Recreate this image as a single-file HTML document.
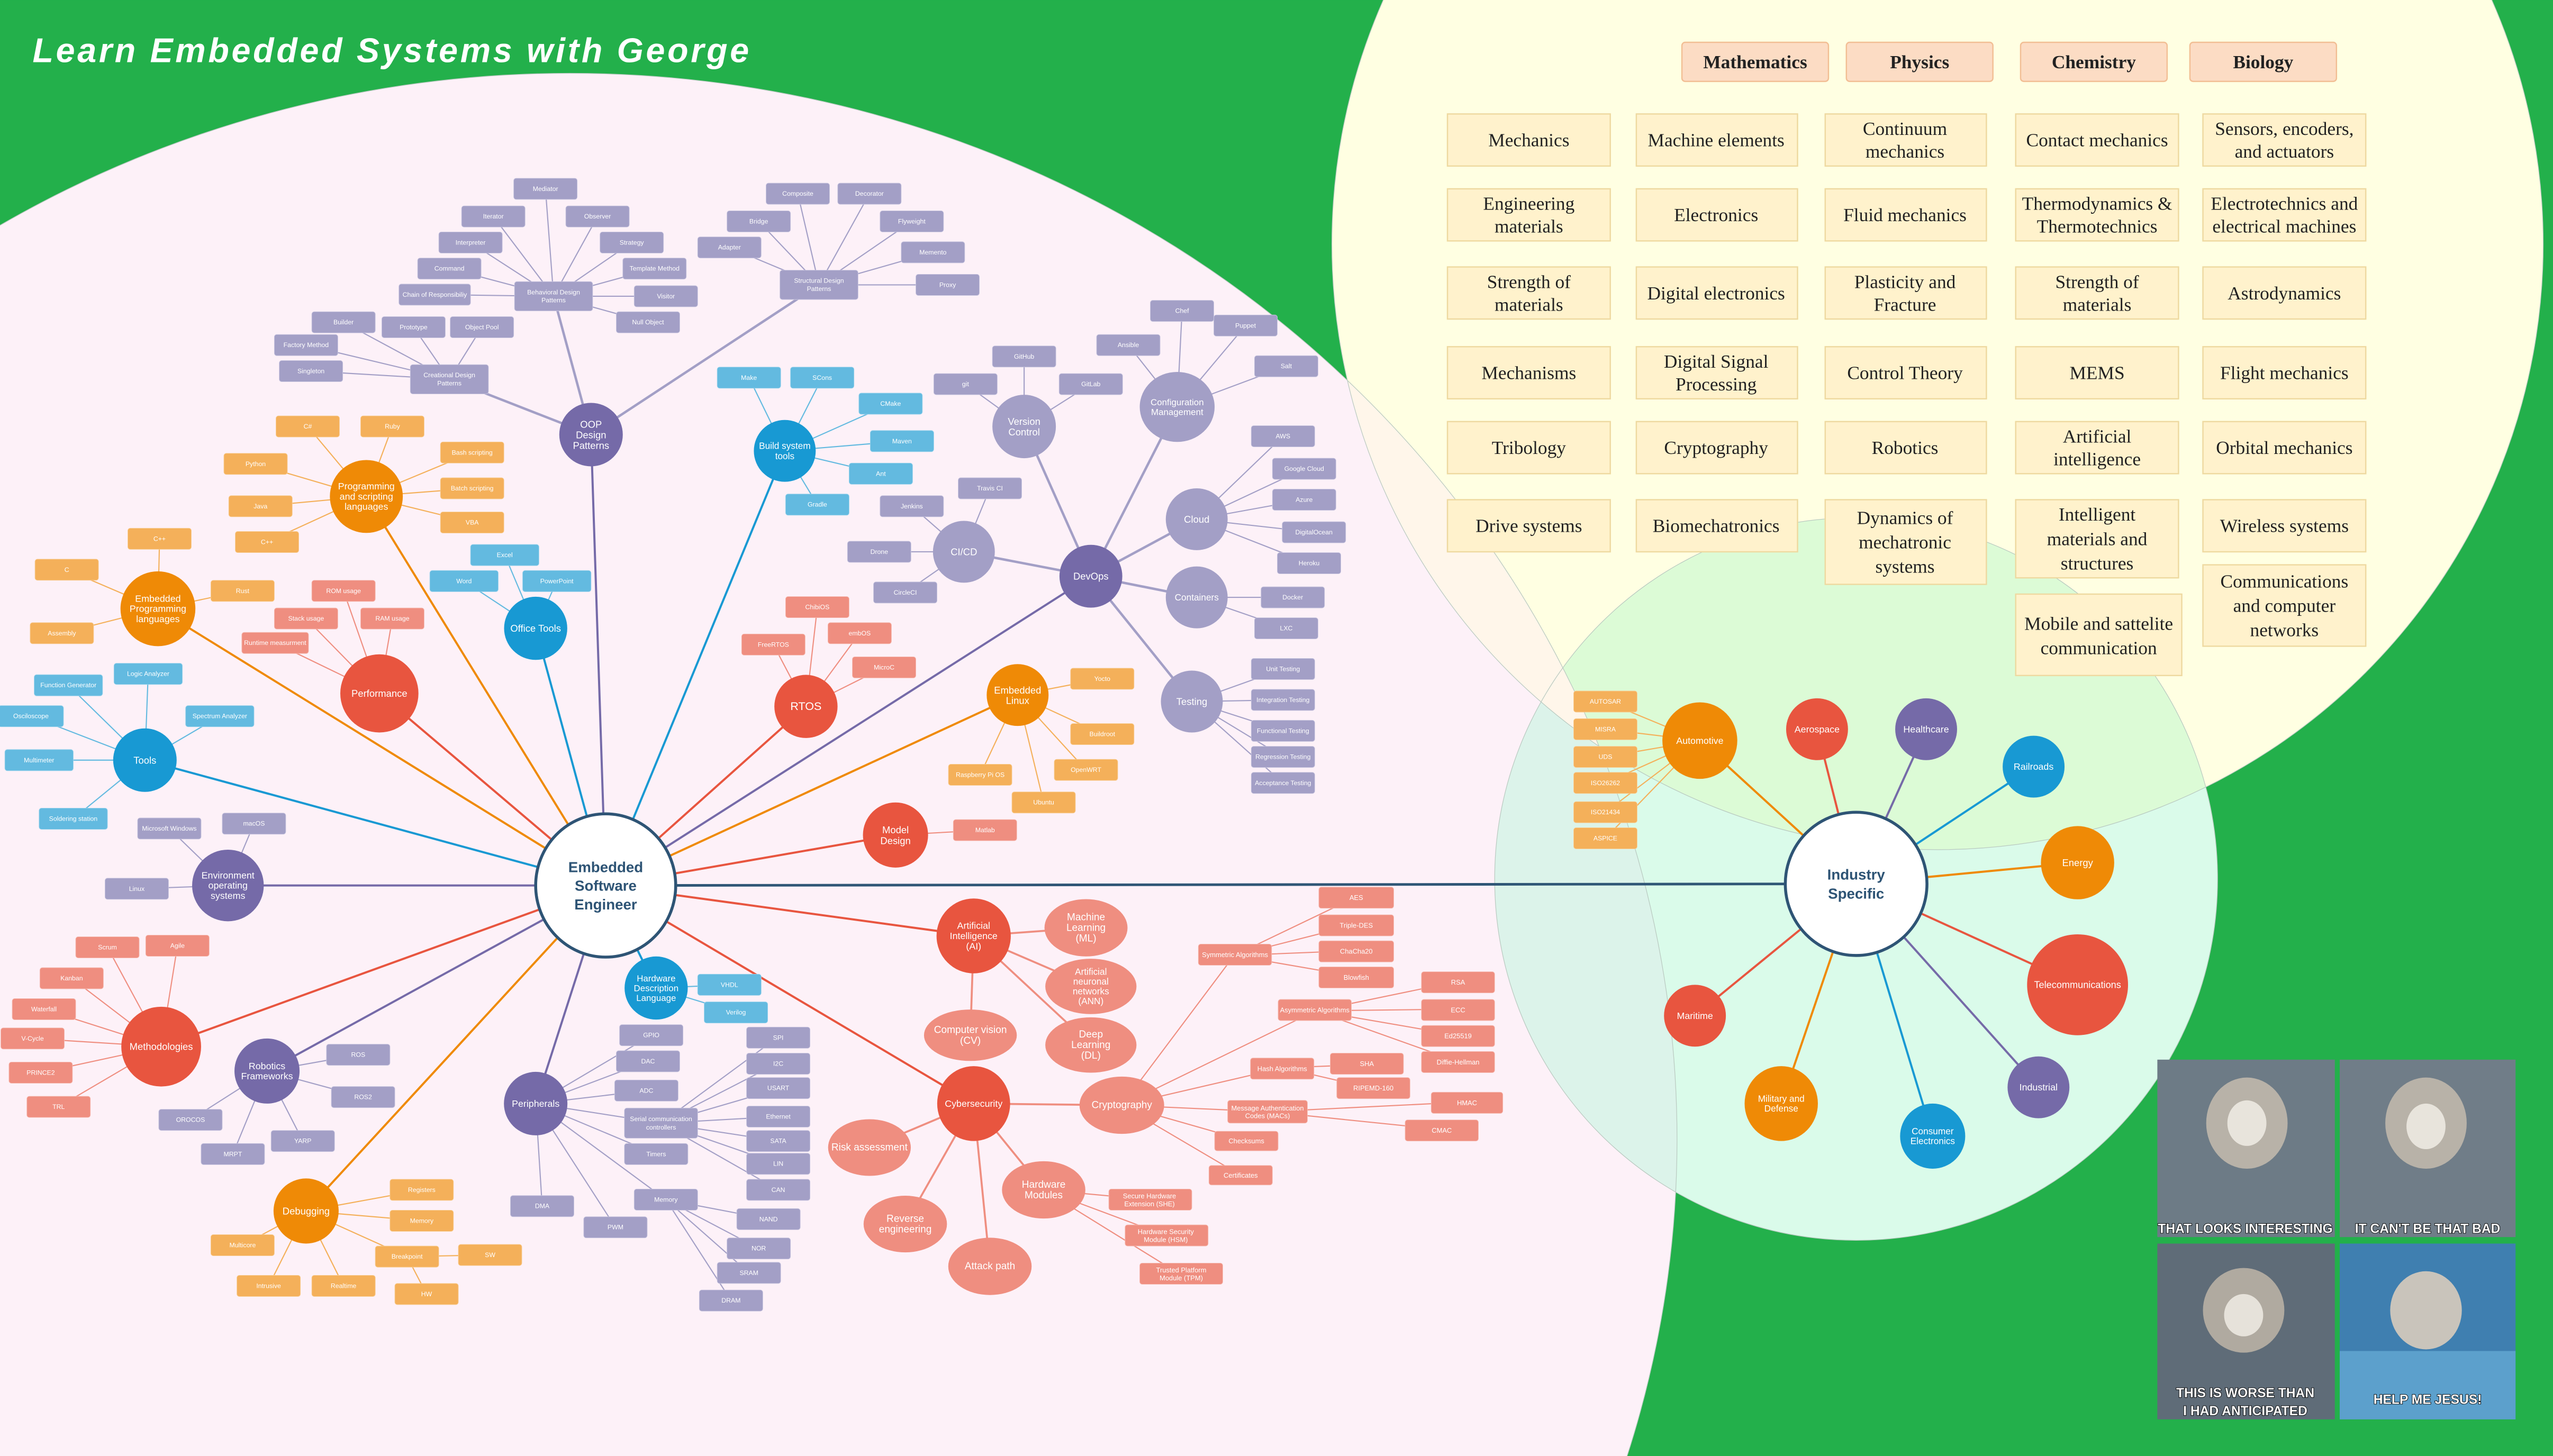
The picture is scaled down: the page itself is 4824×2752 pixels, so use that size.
<!DOCTYPE html>
<html><head><meta charset="utf-8"><style>
html,body{margin:0;padding:0;background:#23b04b;width:4824px;height:2752px;overflow:hidden}
svg{display:block}
text{font-family:"Liberation Sans",sans-serif;fill:#fff;text-anchor:middle;dominant-baseline:central}
.s text{font-size:4px}
.k text{font-size:4.2px}
.m{font-size:6px}
.n{font-size:5.6px}
.lp rect{fill:#a39fc6;stroke:#c9c6e0;stroke-width:.3}
.lo rect{fill:#f4b05a;stroke:#f8cf98;stroke-width:.3}
.ls rect{fill:#ef8e80;stroke:#f6bdb4;stroke-width:.3}
.lb rect{fill:#63bae0;stroke:#9ad3ec;stroke-width:.3}
.g text{font-family:"Liberation Serif",serif;fill:#222;font-size:11.5px}
.g rect{fill:#fff2cc;stroke:#eed9a0;stroke-width:.8}
.h rect{fill:#fcdcc4;stroke:#f2be94;stroke-width:.8}
.h text{font-family:"Liberation Serif",serif;fill:#222;font-size:11.5px;font-weight:bold}
</style></head><body>
<svg width="4824" height="2752" viewBox="0 0 1568 894.5" xmlns="http://www.w3.org/2000/svg">
<defs>
<clipPath id="cp"><ellipse cx="350" cy="700" rx="680" ry="655"/></clipPath>
<clipPath id="cy"><circle cx="1190" cy="150" r="372"/></clipPath>
</defs>
<rect width="1568" height="895" fill="#23b04b"/>
<ellipse cx="350" cy="700" rx="680" ry="655" fill="#fdf1f8"/>
<circle cx="1190" cy="150" r="372" fill="#ffffe2"/>
<circle cx="1140" cy="540" r="222" fill="#dafbea"/>
<circle cx="1140" cy="540" r="222" fill="#dcfbd6" clip-path="url(#cy)"/>
<circle cx="1140" cy="540" r="222" fill="#dcf3ea" clip-path="url(#cp)"/>
<circle cx="1190" cy="150" r="372" fill="#fff6ea" clip-path="url(#cp)"/>
<g fill="none" stroke="#b9c9c0" stroke-width=".4"><ellipse cx="350" cy="700" rx="680" ry="655"/><circle cx="1190" cy="150" r="372"/><circle cx="1140" cy="540" r="222"/></g>

<text x="20" y="31" style="text-anchor:start;font-size:21px;font-weight:bold;font-style:italic" textLength="440">Learn Embedded Systems with George</text>

<g class="h">
<rect x="1033" y="26" width="90" height="24" rx="2"/><text x="1078" y="38">Mathematics</text>
<rect x="1134" y="26" width="90" height="24" rx="2"/><text x="1179" y="38">Physics</text>
<rect x="1241" y="26" width="90" height="24" rx="2"/><text x="1286" y="38">Chemistry</text>
<rect x="1345" y="26" width="90" height="24" rx="2"/><text x="1390" y="38">Biology</text>
</g>
<g class="g">
<rect x="889" y="70" width="100" height="32"/><text x="939" y="86">Mechanics</text>
<rect x="889" y="116" width="100" height="32"/><text x="939" y="132"><tspan x="939" dy="-7">Engineering</tspan><tspan x="939" dy="14">materials</tspan></text>
<rect x="889" y="164" width="100" height="32"/><text x="939" y="180"><tspan x="939" dy="-7">Strength of</tspan><tspan x="939" dy="14">materials</tspan></text>
<rect x="889" y="213" width="100" height="32"/><text x="939" y="229">Mechanisms</text>
<rect x="889" y="259" width="100" height="32"/><text x="939" y="275">Tribology</text>
<rect x="889" y="307" width="100" height="32"/><text x="939" y="323">Drive systems</text>
<rect x="1005" y="70" width="99" height="32"/><text x="1054" y="86">Machine elements</text>
<rect x="1005" y="116" width="99" height="32"/><text x="1054" y="132">Electronics</text>
<rect x="1005" y="164" width="99" height="32"/><text x="1054" y="180">Digital electronics</text>
<rect x="1005" y="213" width="99" height="32"/><text x="1054" y="229"><tspan x="1054" dy="-7">Digital Signal</tspan><tspan x="1054" dy="14">Processing</tspan></text>
<rect x="1005" y="259" width="99" height="32"/><text x="1054" y="275">Cryptography</text>
<rect x="1005" y="307" width="99" height="32"/><text x="1054" y="323">Biomechatronics</text>
<rect x="1121" y="70" width="99" height="32"/><text x="1170" y="86"><tspan x="1170" dy="-7">Continuum</tspan><tspan x="1170" dy="14">mechanics</tspan></text>
<rect x="1121" y="116" width="99" height="32"/><text x="1170" y="132">Fluid mechanics</text>
<rect x="1121" y="164" width="99" height="32"/><text x="1170" y="180"><tspan x="1170" dy="-7">Plasticity and</tspan><tspan x="1170" dy="14">Fracture</tspan></text>
<rect x="1121" y="213" width="99" height="32"/><text x="1170" y="229">Control Theory</text>
<rect x="1121" y="259" width="99" height="32"/><text x="1170" y="275">Robotics</text>
<rect x="1121" y="307" width="99" height="52"/><text x="1170" y="333"><tspan x="1170" dy="-15">Dynamics of</tspan><tspan x="1170" dy="15">mechatronic</tspan><tspan x="1170" dy="15">systems</tspan></text>
<rect x="1238" y="70" width="100" height="32"/><text x="1288" y="86">Contact mechanics</text>
<rect x="1238" y="116" width="100" height="32"/><text x="1288" y="132"><tspan x="1288" dy="-7">Thermodynamics &amp;</tspan><tspan x="1288" dy="14">Thermotechnics</tspan></text>
<rect x="1238" y="164" width="100" height="32"/><text x="1288" y="180"><tspan x="1288" dy="-7">Strength of</tspan><tspan x="1288" dy="14">materials</tspan></text>
<rect x="1238" y="213" width="100" height="32"/><text x="1288" y="229">MEMS</text>
<rect x="1238" y="259" width="100" height="32"/><text x="1288" y="275"><tspan x="1288" dy="-7">Artificial</tspan><tspan x="1288" dy="14">intelligence</tspan></text>
<rect x="1238" y="307" width="100" height="48"/><text x="1288" y="331"><tspan x="1288" dy="-15">Intelligent</tspan><tspan x="1288" dy="15">materials and</tspan><tspan x="1288" dy="15">structures</tspan></text>
<rect x="1238" y="365" width="102" height="50"/><text x="1289" y="390"><tspan x="1289" dy="-7">Mobile and sattelite</tspan><tspan x="1289" dy="15">communication</tspan></text>
<rect x="1353" y="70" width="100" height="32"/><text x="1403" y="86"><tspan x="1403" dy="-7">Sensors, encoders,</tspan><tspan x="1403" dy="14">and actuators</tspan></text>
<rect x="1353" y="116" width="100" height="32"/><text x="1403" y="132"><tspan x="1403" dy="-7">Electrotechnics and</tspan><tspan x="1403" dy="14">electrical machines</tspan></text>
<rect x="1353" y="164" width="100" height="32"/><text x="1403" y="180">Astrodynamics</text>
<rect x="1353" y="213" width="100" height="32"/><text x="1403" y="229">Flight mechanics</text>
<rect x="1353" y="259" width="100" height="32"/><text x="1403" y="275">Orbital mechanics</text>
<rect x="1353" y="307" width="100" height="32"/><text x="1403" y="323">Wireless systems</text>
<rect x="1353" y="347" width="100" height="50"/><text x="1403" y="372"><tspan x="1403" dy="-15">Communications</tspan><tspan x="1403" dy="15">and computer</tspan><tspan x="1403" dy="15">networks</tspan></text>
</g>

<g>
<rect x="1325" y="651" width="109" height="109" fill="#6d7b86"/>
<rect x="1437" y="651" width="108" height="109" fill="#707d88"/>
<rect x="1325" y="764" width="109" height="108" fill="#5f6c78"/>
<rect x="1437" y="764" width="108" height="108" fill="#3f7fb0"/>
<ellipse cx="1380" cy="690" rx="25" ry="28" fill="#b8b2a8"/><ellipse cx="1380" cy="690" rx="12" ry="14" fill="#e8e4dc"/>
<ellipse cx="1490" cy="690" rx="25" ry="28" fill="#b8b2a8"/><ellipse cx="1490" cy="692" rx="12" ry="14" fill="#e8e4dc"/>
<ellipse cx="1378" cy="805" rx="25" ry="26" fill="#b0aaa0"/><ellipse cx="1378" cy="808" rx="12" ry="13" fill="#e6e2da"/>
<ellipse cx="1490" cy="805" rx="22" ry="24" fill="#c9c4bb"/><rect x="1437" y="830" width="108" height="42" fill="#6fb5e0" opacity=".6"/>
<g style="font-weight:bold;font-size:8px;stroke:#000;stroke-width:.6;paint-order:stroke">
<text x="1379" y="755">THAT LOOKS INTERESTING</text>
<text x="1491" y="755">IT CAN'T BE THAT BAD</text>
<text x="1379" y="856">THIS IS WORSE THAN</text>
<text x="1379" y="867">I HAD ANTICIPATED</text>
<text x="1491" y="860">HELP ME JESUS!</text>
</g>
</g>

<path fill="none" stroke="#a39fc6" stroke-width=".7" d="M340 182L335 116M340 182L303 133M340 182L367 133M340 182L289 149M340 182L388 149M340 182L276 165M340 182L402 165M340 182L267 181M340 182L409 182M340 182L398 198
M503 175L490 119M503 175L534 119M503 175L466 136M503 175L560 136M503 175L448 152M503 175L573 155M503 175L582 175
M276 233L211 198M276 233L254 201M276 233L296 201M276 233L188 212M276 233L191 228
M140 544L104 509M140 544L156 506M140 544L84 546
M164 658L220 648M164 658L223 674M164 658L117 688M164 658L186 701M164 658L143 709
M329 678L400 636M329 678L398 652M329 678L397 670M329 678L406 690M329 678L403 709M329 678L409 737M329 678L333 741M329 678L378 754
M406 690L478 637M406 690L478 653M406 690L478 669M406 690L478 686M406 690L478 701M406 690L478 715M406 690L478 731
M409 737L472 749M409 737L466 767M409 737L460 782M409 737L449 799
M629 262L593 236M629 262L629 219M629 262L670 236
M723 250L726 191M723 250L765 200M723 250L693 212M723 250L790 225
M735 319L788 268M735 319L801 288M735 319L801 307M735 319L807 327M735 319L804 346
M735 367L794 367M735 367L790 386
M732 431L788 411M732 431L788 430M732 431L788 449M732 431L788 465M732 431L788 481
M592 339L608 300M592 339L560 311M592 339L540 339M592 339L556 364"/>
<path fill="none" stroke="#a39fc6" stroke-width="1.5" d="M363 267L340 182M363 267L503 175M363 267L276 233M670 354L629 262M670 354L723 250M670 354L735 319M670 354L735 367M670 354L732 431M670 354L592 339"/>
<path fill="none" stroke="#756aa8" stroke-width="1.3" d="M372 544L363 267M372 544L140 544M372 544L164 658M372 544L329 678M372 544L670 354M1140 543L1183 448M1140 543L1252 668"/>
<path fill="none" stroke="#ef8a06" stroke-width="1.3" d="M372 544L225 305M372 544L97 374M372 544L188 744M372 544L625 427M1140 543L1044 455M1140 543L1276 530M1140 543L1094 678"/>
<path fill="none" stroke="#f4b05a" stroke-width=".7" d="M225 305L189 262M225 305L241 262M225 305L157 285M225 305L290 278M225 305L160 311M225 305L290 300M225 305L164 333M225 305L290 321
M97 374L98 331M97 374L41 350M97 374L149 363M97 374L38 389
M188 744L259 731M188 744L259 750M188 744L250 772M188 744L149 765M188 744L165 790M188 744L211 790M250 772L301 771M250 772L262 795
M625 427L677 417M625 427L677 451M625 427L667 473M625 427L641 493M625 427L602 476
M1044 455L986 431M1044 455L986 448M1044 455L986 465M1044 455L986 481M1044 455L986 499M1044 455L986 515"/>
<path fill="none" stroke="#e8553f" stroke-width="1.3" d="M372 544L233 426M372 544L99 643M372 544L598 678M372 544L598 575M372 544L550 513M372 544L495 434M1140 543L1116 448M1140 543L1276 605M1140 543L1041 624"/>
<path fill="none" stroke="#ef8e80" stroke-width=".7" d="M233 426L211 363M233 426L188 380M233 426L241 380M233 426L169 395
M99 643L66 582M99 643L109 581M99 643L44 601M99 643L27 620M99 643L20 638M99 643L25 659M99 643L36 680
M495 434L475 396M495 434L502 373M495 434L528 389M495 434L543 410M550 513L605 510
M641 731L706 737M641 731L716 759M641 731L725 783
M689 679L758 587M689 679L808 621M689 679L788 656M689 679L779 683M689 679L766 701M689 679L762 722
M758 587L833 551M758 587L833 568M758 587L833 584M758 587L833 600
M808 621L895 603M808 621L895 620M808 621L895 636M808 621L895 652
M788 656L840 654M788 656L844 669M779 683L901 677M779 683L886 694"/>
<path fill="none" stroke="#ef8e80" stroke-width="1.2" d="M598 575L667 570M598 575L670 606M598 575L670 642M598 575L596 636M598 678L534 705M598 678L556 752M598 678L608 778M598 678L641 731M598 678L689 679"/>
<path fill="none" stroke="#1899d3" stroke-width="1.3" d="M372 544L329 386M372 544L89 467M372 544L403 607M372 544L482 277M1140 543L1249 471M1140 543L1187 698"/>
<path fill="none" stroke="#63bae0" stroke-width=".7" d="M329 386L310 341M329 386L285 357M329 386L342 357
M89 467L91 414M89 467L42 421M89 467L19 440M89 467L135 440M89 467L24 467M89 467L45 503
M403 607L448 605M403 607L452 622
M482 277L460 232M482 277L505 232M482 277L547 248M482 277L554 271M482 277L541 291M482 277L502 310"/>
<path fill="none" stroke="#2f5676" stroke-width="1.6" d="M372 544L1140 543"/>

<g class="lp s">
<rect x="315.5" y="109.5" width="39" height="13" rx="1.5"/><text x="335" y="116">Mediator</text>
<rect x="283.5" y="126.5" width="39" height="13" rx="1.5"/><text x="303" y="133">Iterator</text>
<rect x="347.5" y="126.5" width="39" height="13" rx="1.5"/><text x="367" y="133">Observer</text>
<rect x="269.5" y="142.5" width="39" height="13" rx="1.5"/><text x="289" y="149">Interpreter</text>
<rect x="368.5" y="142.5" width="39" height="13" rx="1.5"/><text x="388" y="149">Strategy</text>
<rect x="256.5" y="158.5" width="39" height="13" rx="1.5"/><text x="276" y="165">Command</text>
<rect x="382.5" y="158.5" width="39" height="13" rx="1.5"/><text x="402" y="165">Template Method</text>
<rect x="245" y="174.5" width="44" height="13" rx="1.5"/><text x="267" y="181">Chain of Responsibiliy</text>
<rect x="389.5" y="175.5" width="39" height="13" rx="1.5"/><text x="409" y="182">Visitor</text>
<rect x="378.5" y="191.5" width="39" height="13" rx="1.5"/><text x="398" y="198">Null Object</text>
<rect x="316" y="173" width="48" height="18" rx="1.5"/><text x="340" y="182"><tspan x="340" dy="-2.5">Behavioral Design</tspan><tspan x="340" dy="5">Patterns</tspan></text>
<rect x="479" y="166" width="48" height="18" rx="1.5"/><text x="503" y="175"><tspan x="503" dy="-2.5">Structural Design</tspan><tspan x="503" dy="5">Patterns</tspan></text>
<rect x="252" y="224" width="48" height="18" rx="1.5"/><text x="276" y="233"><tspan x="276" dy="-2.5">Creational Design</tspan><tspan x="276" dy="5">Patterns</tspan></text>
<rect x="470.5" y="112.5" width="39" height="13" rx="1.5"/><text x="490" y="119">Composite</text>
<rect x="514.5" y="112.5" width="39" height="13" rx="1.5"/><text x="534" y="119">Decorator</text>
<rect x="446.5" y="129.5" width="39" height="13" rx="1.5"/><text x="466" y="136">Bridge</text>
<rect x="540.5" y="129.5" width="39" height="13" rx="1.5"/><text x="560" y="136">Flyweight</text>
<rect x="428.5" y="145.5" width="39" height="13" rx="1.5"/><text x="448" y="152">Adapter</text>
<rect x="553.5" y="148.5" width="39" height="13" rx="1.5"/><text x="573" y="155">Memento</text>
<rect x="562.5" y="168.5" width="39" height="13" rx="1.5"/><text x="582" y="175">Proxy</text>
<rect x="191.5" y="191.5" width="39" height="13" rx="1.5"/><text x="211" y="198">Builder</text>
<rect x="234.5" y="194.5" width="39" height="13" rx="1.5"/><text x="254" y="201">Prototype</text>
<rect x="276.5" y="194.5" width="39" height="13" rx="1.5"/><text x="296" y="201">Object Pool</text>
<rect x="168.5" y="205.5" width="39" height="13" rx="1.5"/><text x="188" y="212">Factory Method</text>
<rect x="171.5" y="221.5" width="39" height="13" rx="1.5"/><text x="191" y="228">Singleton</text>
<rect x="84.5" y="502.5" width="39" height="13" rx="1.5"/><text x="104" y="509">Microsoft Windows</text>
<rect x="136.5" y="499.5" width="39" height="13" rx="1.5"/><text x="156" y="506">macOS</text>
<rect x="64.5" y="539.5" width="39" height="13" rx="1.5"/><text x="84" y="546">Linux</text>
<rect x="200.5" y="641.5" width="39" height="13" rx="1.5"/><text x="220" y="648">ROS</text>
<rect x="203.5" y="667.5" width="39" height="13" rx="1.5"/><text x="223" y="674">ROS2</text>
<rect x="97.5" y="681.5" width="39" height="13" rx="1.5"/><text x="117" y="688">OROCOS</text>
<rect x="166.5" y="694.5" width="39" height="13" rx="1.5"/><text x="186" y="701">YARP</text>
<rect x="123.5" y="702.5" width="39" height="13" rx="1.5"/><text x="143" y="709">MRPT</text>
<rect x="380.5" y="629.5" width="39" height="13" rx="1.5"/><text x="400" y="636">GPIO</text>
<rect x="378.5" y="645.5" width="39" height="13" rx="1.5"/><text x="398" y="652">DAC</text>
<rect x="377.5" y="663.5" width="39" height="13" rx="1.5"/><text x="397" y="670">ADC</text>
<rect x="383.5" y="680.75" width="45" height="18.5" rx="1.5"/><text x="406" y="690"><tspan x="406" dy="-2.6">Serial communication</tspan><tspan x="406" dy="5.2">controllers</tspan></text>
<rect x="383.5" y="702.5" width="39" height="13" rx="1.5"/><text x="403" y="709">Timers</text>
<rect x="389.5" y="730.5" width="39" height="13" rx="1.5"/><text x="409" y="737">Memory</text>
<rect x="313.5" y="734.5" width="39" height="13" rx="1.5"/><text x="333" y="741">DMA</text>
<rect x="358.5" y="747.5" width="39" height="13" rx="1.5"/><text x="378" y="754">PWM</text>
<rect x="458.5" y="631" width="39" height="13" rx="1.5"/><text x="478" y="637.5">SPI</text>
<rect x="458.5" y="647" width="39" height="13" rx="1.5"/><text x="478" y="653.5">I2C</text>
<rect x="458.5" y="662" width="39" height="13" rx="1.5"/><text x="478" y="668.5">USART</text>
<rect x="458.5" y="679.5" width="39" height="13" rx="1.5"/><text x="478" y="686">Ethernet</text>
<rect x="458.5" y="694.5" width="39" height="13" rx="1.5"/><text x="478" y="701">SATA</text>
<rect x="458.5" y="708.5" width="39" height="13" rx="1.5"/><text x="478" y="715">LIN</text>
<rect x="458.5" y="724.5" width="39" height="13" rx="1.5"/><text x="478" y="731">CAN</text>
<rect x="452.5" y="742.5" width="39" height="13" rx="1.5"/><text x="472" y="749">NAND</text>
<rect x="446.5" y="760.5" width="39" height="13" rx="1.5"/><text x="466" y="767">NOR</text>
<rect x="440.5" y="775.5" width="39" height="13" rx="1.5"/><text x="460" y="782">SRAM</text>
<rect x="429.5" y="792.5" width="39" height="13" rx="1.5"/><text x="449" y="799">DRAM</text>
<rect x="573.5" y="229.5" width="39" height="13" rx="1.5"/><text x="593" y="236">git</text>
<rect x="609.5" y="212.5" width="39" height="13" rx="1.5"/><text x="629" y="219">GitHub</text>
<rect x="650.5" y="229.5" width="39" height="13" rx="1.5"/><text x="670" y="236">GitLab</text>
<rect x="706.5" y="184.5" width="39" height="13" rx="1.5"/><text x="726" y="191">Chef</text>
<rect x="745.5" y="193.5" width="39" height="13" rx="1.5"/><text x="765" y="200">Puppet</text>
<rect x="673.5" y="205.5" width="39" height="13" rx="1.5"/><text x="693" y="212">Ansible</text>
<rect x="770.5" y="218.5" width="39" height="13" rx="1.5"/><text x="790" y="225">Salt</text>
<rect x="768.5" y="261.5" width="39" height="13" rx="1.5"/><text x="788" y="268">AWS</text>
<rect x="781.5" y="281.5" width="39" height="13" rx="1.5"/><text x="801" y="288">Google Cloud</text>
<rect x="781.5" y="300.5" width="39" height="13" rx="1.5"/><text x="801" y="307">Azure</text>
<rect x="787.5" y="320.5" width="39" height="13" rx="1.5"/><text x="807" y="327">DigitalOcean</text>
<rect x="784.5" y="339.5" width="39" height="13" rx="1.5"/><text x="804" y="346">Heroku</text>
<rect x="774.5" y="360.5" width="39" height="13" rx="1.5"/><text x="794" y="367">Docker</text>
<rect x="770.5" y="379.5" width="39" height="13" rx="1.5"/><text x="790" y="386">LXC</text>
<rect x="768.5" y="404.5" width="39" height="13" rx="1.5"/><text x="788" y="411">Unit Testing</text>
<rect x="768.5" y="423.5" width="39" height="13" rx="1.5"/><text x="788" y="430">Integration Testing</text>
<rect x="768.5" y="442.5" width="39" height="13" rx="1.5"/><text x="788" y="449">Functional Testing</text>
<rect x="768.5" y="458.5" width="39" height="13" rx="1.5"/><text x="788" y="465">Regression Testing</text>
<rect x="768.5" y="474.5" width="39" height="13" rx="1.5"/><text x="788" y="481">Acceptance Testing</text>
<rect x="588.5" y="293.5" width="39" height="13" rx="1.5"/><text x="608" y="300">Travis CI</text>
<rect x="540.5" y="304.5" width="39" height="13" rx="1.5"/><text x="560" y="311">Jenkins</text>
<rect x="520.5" y="332.5" width="39" height="13" rx="1.5"/><text x="540" y="339">Drone</text>
<rect x="536.5" y="357.5" width="39" height="13" rx="1.5"/><text x="556" y="364">CircleCI</text>
</g>
<g class="lb s">
<rect x="440.5" y="225.5" width="39" height="13" rx="1.5"/><text x="460" y="232">Make</text>
<rect x="485.5" y="225.5" width="39" height="13" rx="1.5"/><text x="505" y="232">SCons</text>
<rect x="527.5" y="241.5" width="39" height="13" rx="1.5"/><text x="547" y="248">CMake</text>
<rect x="534.5" y="264.5" width="39" height="13" rx="1.5"/><text x="554" y="271">Maven</text>
<rect x="521.5" y="284.5" width="39" height="13" rx="1.5"/><text x="541" y="291">Ant</text>
<rect x="482.5" y="303.5" width="39" height="13" rx="1.5"/><text x="502" y="310">Gradle</text>
<rect x="289" y="334.5" width="42" height="13" rx="1.5"/><text x="310" y="341">Excel</text>
<rect x="264" y="350.5" width="42" height="13" rx="1.5"/><text x="285" y="357">Word</text>
<rect x="321" y="350.5" width="42" height="13" rx="1.5"/><text x="342" y="357">PowerPoint</text>
<rect x="70" y="407.5" width="42" height="13" rx="1.5"/><text x="91" y="414">Logic Analyzer</text>
<rect x="21" y="414.5" width="42" height="13" rx="1.5"/><text x="42" y="421">Function Generator</text>
<rect x="-1" y="433.5" width="40" height="13" rx="1.5"/><text x="19" y="440">Osciloscope</text>
<rect x="114" y="433.5" width="42" height="13" rx="1.5"/><text x="135" y="440">Spectrum Analyzer</text>
<rect x="3" y="460.5" width="42" height="13" rx="1.5"/><text x="24" y="467">Multimeter</text>
<rect x="24" y="496.5" width="42" height="13" rx="1.5"/><text x="45" y="503">Soldering station</text>
<rect x="428.5" y="598.5" width="39" height="13" rx="1.5"/><text x="448" y="605">VHDL</text>
<rect x="432.5" y="615.5" width="39" height="13" rx="1.5"/><text x="452" y="622">Verilog</text>
</g>
<g class="lo s">
<rect x="169.5" y="255.5" width="39" height="13" rx="1.5"/><text x="189" y="262">C#</text>
<rect x="221.5" y="255.5" width="39" height="13" rx="1.5"/><text x="241" y="262">Ruby</text>
<rect x="137.5" y="278.5" width="39" height="13" rx="1.5"/><text x="157" y="285">Python</text>
<rect x="270.5" y="271.5" width="39" height="13" rx="1.5"/><text x="290" y="278">Bash scripting</text>
<rect x="140.5" y="304.5" width="39" height="13" rx="1.5"/><text x="160" y="311">Java</text>
<rect x="270.5" y="293.5" width="39" height="13" rx="1.5"/><text x="290" y="300">Batch scripting</text>
<rect x="144.5" y="326.5" width="39" height="13" rx="1.5"/><text x="164" y="333">C++</text>
<rect x="270.5" y="314.5" width="39" height="13" rx="1.5"/><text x="290" y="321">VBA</text>
<rect x="78.5" y="324.5" width="39" height="13" rx="1.5"/><text x="98" y="331">C++</text>
<rect x="21.5" y="343.5" width="39" height="13" rx="1.5"/><text x="41" y="350">C</text>
<rect x="129.5" y="356.5" width="39" height="13" rx="1.5"/><text x="149" y="363">Rust</text>
<rect x="18.5" y="382.5" width="39" height="13" rx="1.5"/><text x="38" y="389">Assembly</text>
<rect x="239.5" y="724.5" width="39" height="13" rx="1.5"/><text x="259" y="731">Registers</text>
<rect x="239.5" y="743.5" width="39" height="13" rx="1.5"/><text x="259" y="750">Memory</text>
<rect x="230.5" y="765.5" width="39" height="13" rx="1.5"/><text x="250" y="772">Breakpoint</text>
<rect x="281.5" y="764.5" width="39" height="13" rx="1.5"/><text x="301" y="771">SW</text>
<rect x="242.5" y="788.5" width="39" height="13" rx="1.5"/><text x="262" y="795">HW</text>
<rect x="129.5" y="758.5" width="39" height="13" rx="1.5"/><text x="149" y="765">Multicore</text>
<rect x="145.5" y="783.5" width="39" height="13" rx="1.5"/><text x="165" y="790">Intrusive</text>
<rect x="191.5" y="783.5" width="39" height="13" rx="1.5"/><text x="211" y="790">Realtime</text>
<rect x="657.5" y="410.5" width="39" height="13" rx="1.5"/><text x="677" y="417">Yocto</text>
<rect x="657.5" y="444.5" width="39" height="13" rx="1.5"/><text x="677" y="451">Buildroot</text>
<rect x="647.5" y="466.5" width="39" height="13" rx="1.5"/><text x="667" y="473">OpenWRT</text>
<rect x="621.5" y="486.5" width="39" height="13" rx="1.5"/><text x="641" y="493">Ubuntu</text>
<rect x="582.5" y="469.5" width="39" height="13" rx="1.5"/><text x="602" y="476">Raspberry Pi OS</text>
<rect x="966.5" y="424.5" width="39" height="13" rx="1.5"/><text x="986" y="431">AUTOSAR</text>
<rect x="966.5" y="441.5" width="39" height="13" rx="1.5"/><text x="986" y="448">MISRA</text>
<rect x="966.5" y="458.5" width="39" height="13" rx="1.5"/><text x="986" y="465">UDS</text>
<rect x="966.5" y="474.5" width="39" height="13" rx="1.5"/><text x="986" y="481">ISO26262</text>
<rect x="966.5" y="492.5" width="39" height="13" rx="1.5"/><text x="986" y="499">ISO21434</text>
<rect x="966.5" y="508.5" width="39" height="13" rx="1.5"/><text x="986" y="515">ASPICE</text>
</g>
<g class="ls s">
<rect x="191.5" y="356.5" width="39" height="13" rx="1.5"/><text x="211" y="363">ROM usage</text>
<rect x="168.5" y="373.5" width="39" height="13" rx="1.5"/><text x="188" y="380">Stack usage</text>
<rect x="221.5" y="373.5" width="39" height="13" rx="1.5"/><text x="241" y="380">RAM usage</text>
<rect x="148.5" y="388.5" width="41" height="13" rx="1.5"/><text x="169" y="395">Runtime measurment</text>
<rect x="46.5" y="575.5" width="39" height="13" rx="1.5"/><text x="66" y="582">Scrum</text>
<rect x="89.5" y="574.5" width="39" height="13" rx="1.5"/><text x="109" y="581">Agile</text>
<rect x="24.5" y="594.5" width="39" height="13" rx="1.5"/><text x="44" y="601">Kanban</text>
<rect x="7.5" y="613.5" width="39" height="13" rx="1.5"/><text x="27" y="620">Waterfall</text>
<rect x="0.5" y="631.5" width="39" height="13" rx="1.5"/><text x="20" y="638">V-Cycle</text>
<rect x="5.5" y="652.5" width="39" height="13" rx="1.5"/><text x="25" y="659">PRINCE2</text>
<rect x="16.5" y="673.5" width="39" height="13" rx="1.5"/><text x="36" y="680">TRL</text>
<rect x="455.5" y="389.5" width="39" height="13" rx="1.5"/><text x="475" y="396">FreeRTOS</text>
<rect x="482.5" y="366.5" width="39" height="13" rx="1.5"/><text x="502" y="373">ChibiOS</text>
<rect x="508.5" y="382.5" width="39" height="13" rx="1.5"/><text x="528" y="389">embOS</text>
<rect x="523.5" y="403.5" width="39" height="13" rx="1.5"/><text x="543" y="410">MicroC</text>
<rect x="585.5" y="503.5" width="39" height="13" rx="1.5"/><text x="605" y="510">Matlab</text>
</g>
<g class="ls k">
<rect x="736" y="580" width="45" height="13" rx="1.5"/><text x="758.5" y="586.5">Symmetric Algorithms</text>
<rect x="785" y="614" width="45" height="13" rx="1.5"/><text x="807.5" y="620.5">Asymmetric Algorithms</text>
<rect x="768" y="650" width="39" height="13" rx="1.5"/><text x="787.5" y="656.5">Hash Algorithms</text>
<rect x="754" y="676" width="49" height="14" rx="1.5"/><text x="778.5" y="683"><tspan x="778.5" dy="-2.4">Message Authentication</tspan><tspan x="778.5" dy="4.8">Codes (MACs)</tspan></text>
<rect x="746" y="695" width="39" height="12" rx="1.5"/><text x="765.5" y="701">Checksums</text>
<rect x="742.5" y="716" width="39" height="12" rx="1.5"/><text x="762" y="722">Certificates</text>
<rect x="810" y="545" width="46" height="13" rx="1.5"/><text x="833" y="551.5">AES</text>
<rect x="810" y="562" width="46" height="13" rx="1.5"/><text x="833" y="568.5">Triple-DES</text>
<rect x="810" y="578" width="46" height="13" rx="1.5"/><text x="833" y="584.5">ChaCha20</text>
<rect x="810" y="594" width="46" height="13" rx="1.5"/><text x="833" y="600.5">Blowfish</text>
<rect x="873" y="597" width="45" height="13" rx="1.5"/><text x="895.5" y="603.5">RSA</text>
<rect x="873" y="614" width="45" height="13" rx="1.5"/><text x="895.5" y="620.5">ECC</text>
<rect x="873" y="630" width="45" height="13" rx="1.5"/><text x="895.5" y="636.5">Ed25519</text>
<rect x="873" y="646" width="45" height="13" rx="1.5"/><text x="895.5" y="652.5">Diffie-Hellman</text>
<rect x="817" y="647" width="45" height="13" rx="1.5"/><text x="839.5" y="653.5">SHA</text>
<rect x="821" y="662" width="45" height="13" rx="1.5"/><text x="843.5" y="668.5">RIPEMD-160</text>
<rect x="879" y="671" width="44" height="13" rx="1.5"/><text x="901" y="677.5">HMAC</text>
<rect x="863" y="688" width="45" height="13" rx="1.5"/><text x="885.5" y="694.5">CMAC</text>
<rect x="681" y="730.5" width="51" height="13" rx="1.5"/><text x="706" y="737"><tspan x="706" dy="-2.4">Secure Hardware</tspan><tspan x="706" dy="4.8">Extension (SHE)</tspan></text>
<rect x="691" y="752.5" width="51" height="13" rx="1.5"/><text x="716" y="759"><tspan x="716" dy="-2.4">Hardware Security</tspan><tspan x="716" dy="4.8">Module (HSM)</tspan></text>
<rect x="700" y="776" width="51" height="13" rx="1.5"/><text x="725.5" y="782.5"><tspan x="725.5" dy="-2.4">Trusted Platform</tspan><tspan x="725.5" dy="4.8">Module (TPM)</tspan></text>
</g>

<g fill="#756aa8">
<circle cx="363" cy="267" r="19.5"/><circle cx="140" cy="544" r="22"/><circle cx="164" cy="658" r="20"/><circle cx="329" cy="678" r="19.5"/><circle cx="670" cy="354" r="19.3"/><circle cx="1183" cy="448" r="19"/><circle cx="1252" cy="668" r="19"/>
</g>
<g fill="#a39fc6">
<circle cx="629" cy="262" r="19.5"/><ellipse cx="723" cy="250" rx="23" ry="21.5"/><circle cx="735" cy="319" r="19"/><circle cx="735" cy="367" r="19"/><circle cx="732" cy="431" r="19"/><circle cx="592" cy="339" r="19"/>
</g>
<g fill="#ef8a06">
<circle cx="225" cy="305" r="22.4"/><circle cx="97" cy="374" r="23"/><circle cx="188" cy="744" r="20"/><circle cx="625" cy="427" r="19"/><ellipse cx="1044" cy="455" rx="23" ry="23.5"/><circle cx="1276" cy="530" r="22.5"/><ellipse cx="1094" cy="678" rx="22.5" ry="23"/>
</g>
<g fill="#e8553f">
<circle cx="233" cy="426" r="24"/><circle cx="99" cy="643" r="24.5"/><circle cx="495" cy="434" r="19.4"/><circle cx="550" cy="513" r="20"/><ellipse cx="598" cy="575" rx="22.8" ry="23"/><ellipse cx="598" cy="678" rx="22.4" ry="23"/><circle cx="1116" cy="448" r="19"/><circle cx="1276" cy="605" r="31"/><circle cx="1041" cy="624" r="19"/>
</g>
<g fill="#ef8e80">
<ellipse cx="667" cy="570" rx="25.5" ry="17.6"/><ellipse cx="670" cy="606" rx="28" ry="17"/><ellipse cx="670" cy="642" rx="28" ry="17"/><ellipse cx="596" cy="636" rx="28.5" ry="15.8"/>
<ellipse cx="534" cy="705" rx="25.4" ry="17.4"/><ellipse cx="556" cy="752" rx="25.6" ry="17.4"/><ellipse cx="608" cy="778" rx="25.6" ry="17.6"/><ellipse cx="641" cy="731" rx="25.6" ry="17.6"/><ellipse cx="689" cy="679" rx="26" ry="17.6"/>
</g>
<g fill="#1899d3">
<circle cx="329" cy="386" r="19.4"/><circle cx="89" cy="467" r="19.5"/><circle cx="403" cy="607" r="19.4"/><circle cx="482" cy="277" r="19"/><circle cx="1249" cy="471" r="19"/><circle cx="1187" cy="698" r="20"/>
</g>
<ellipse cx="372" cy="544" rx="43" ry="44" fill="#fff" stroke="#2e5475" stroke-width="1.8"/>
<ellipse cx="1140" cy="543" rx="43.5" ry="44" fill="#fff" stroke="#2e5475" stroke-width="1.8"/>

<g class="m">
<text x="363" y="267"><tspan x="363" dy="-6.5">OOP</tspan><tspan x="363" dy="6.5">Design</tspan><tspan x="363" dy="6.5">Patterns</tspan></text>
<text x="140" y="544" font-size="5.8"><tspan x="140" dy="-6.3">Environment</tspan><tspan x="140" dy="6.3">operating</tspan><tspan x="140" dy="6.3">systems</tspan></text>
<text x="164" y="658" font-size="5.8"><tspan x="164" dy="-3.1">Robotics</tspan><tspan x="164" dy="6.2">Frameworks</tspan></text>
<text x="329" y="678" font-size="5.8">Peripherals</text>
<text x="670" y="354">DevOps</text>
<text x="1183" y="448" font-size="5.8">Healthcare</text>
<text x="1252" y="668" font-size="5.8">Industrial</text>
<text x="629" y="262"><tspan x="629" dy="-3.2">Version</tspan><tspan x="629" dy="6.4">Control</tspan></text>
<text x="723" y="250" font-size="5.5"><tspan x="723" dy="-3">Configuration</tspan><tspan x="723" dy="6">Management</tspan></text>
<text x="735" y="319">Cloud</text>
<text x="735" y="367" font-size="5.6">Containers</text>
<text x="732" y="431">Testing</text>
<text x="592" y="339">CI/CD</text>
<text x="225" y="305" font-size="5.8"><tspan x="225" dy="-6.3">Programming</tspan><tspan x="225" dy="6.3">and scripting</tspan><tspan x="225" dy="6.3">languages</tspan></text>
<text x="97" y="374" font-size="5.8"><tspan x="97" dy="-6.3">Embedded</tspan><tspan x="97" dy="6.3">Programming</tspan><tspan x="97" dy="6.3">languages</tspan></text>
<text x="188" y="744">Debugging</text>
<text x="625" y="427"><tspan x="625" dy="-3.2">Embedded</tspan><tspan x="625" dy="6.4">Linux</tspan></text>
<text x="1044" y="455" font-size="5.8">Automotive</text>
<text x="1276" y="530">Energy</text>
<text x="1094" y="678" font-size="5.6"><tspan x="1094" dy="-3">Military and</tspan><tspan x="1094" dy="6">Defense</tspan></text>
<text x="233" y="426">Performance</text>
<text x="99" y="643">Methodologies</text>
<text x="495" y="434" font-size="7">RTOS</text>
<text x="550" y="513"><tspan x="550" dy="-3.3">Model</tspan><tspan x="550" dy="6.6">Design</tspan></text>
<text x="598" y="575" font-size="5.8"><tspan x="598" dy="-6.3">Artificial</tspan><tspan x="598" dy="6.3">Intelligence</tspan><tspan x="598" dy="6.3">(AI)</tspan></text>
<text x="598" y="678" font-size="5.8">Cybersecurity</text>
<text x="1116" y="448" font-size="5.8">Aerospace</text>
<text x="1276" y="605" font-size="5.9">Telecommunications</text>
<text x="1041" y="624" font-size="5.8">Maritime</text>
<text x="667" y="570" font-size="6.2"><tspan x="667" dy="-6.5">Machine</tspan><tspan x="667" dy="6.5">Learning</tspan><tspan x="667" dy="6.5">(ML)</tspan></text>
<text x="670" y="606" font-size="5.6"><tspan x="670" dy="-9">Artificial</tspan><tspan x="670" dy="6">neuronal</tspan><tspan x="670" dy="6">networks</tspan><tspan x="670" dy="6">(ANN)</tspan></text>
<text x="670" y="642" font-size="6.2"><tspan x="670" dy="-6.5">Deep</tspan><tspan x="670" dy="6.5">Learning</tspan><tspan x="670" dy="6.5">(DL)</tspan></text>
<text x="596" y="636" font-size="6.2"><tspan x="596" dy="-3.3">Computer vision</tspan><tspan x="596" dy="6.6">(CV)</tspan></text>
<text x="534" y="705" font-size="6.2">Risk assessment</text>
<text x="556" y="752" font-size="6.2"><tspan x="556" dy="-3.3">Reverse</tspan><tspan x="556" dy="6.6">engineering</tspan></text>
<text x="608" y="778" font-size="6.2">Attack path</text>
<text x="641" y="731" font-size="6.2"><tspan x="641" dy="-3.3">Hardware</tspan><tspan x="641" dy="6.6">Modules</tspan></text>
<text x="689" y="679" font-size="6.2">Cryptography</text>
<text x="329" y="386">Office Tools</text>
<text x="89" y="467">Tools</text>
<text x="403" y="607" font-size="5.5"><tspan x="403" dy="-6">Hardware</tspan><tspan x="403" dy="6">Description</tspan><tspan x="403" dy="6">Language</tspan></text>
<text x="482" y="277" font-size="5.6"><tspan x="482" dy="-3.2">Build system</tspan><tspan x="482" dy="6.4">tools</tspan></text>
<text x="1249" y="471" font-size="5.8">Railroads</text>
<text x="1187" y="698" font-size="5.6"><tspan x="1187" dy="-3">Consumer</tspan><tspan x="1187" dy="6">Electronics</tspan></text>
</g>
<text x="372" y="544" style="font-size:9px;font-weight:bold;fill:#2e5475"><tspan x="372" dy="-11.5">Embedded</tspan><tspan x="372" dy="11.5">Software</tspan><tspan x="372" dy="11.5">Engineer</tspan></text>
<text x="1140" y="543" style="font-size:9px;font-weight:bold;fill:#2e5475"><tspan x="1140" dy="-5.8">Industry</tspan><tspan x="1140" dy="11.6">Specific</tspan></text>
</svg>
</body></html>
